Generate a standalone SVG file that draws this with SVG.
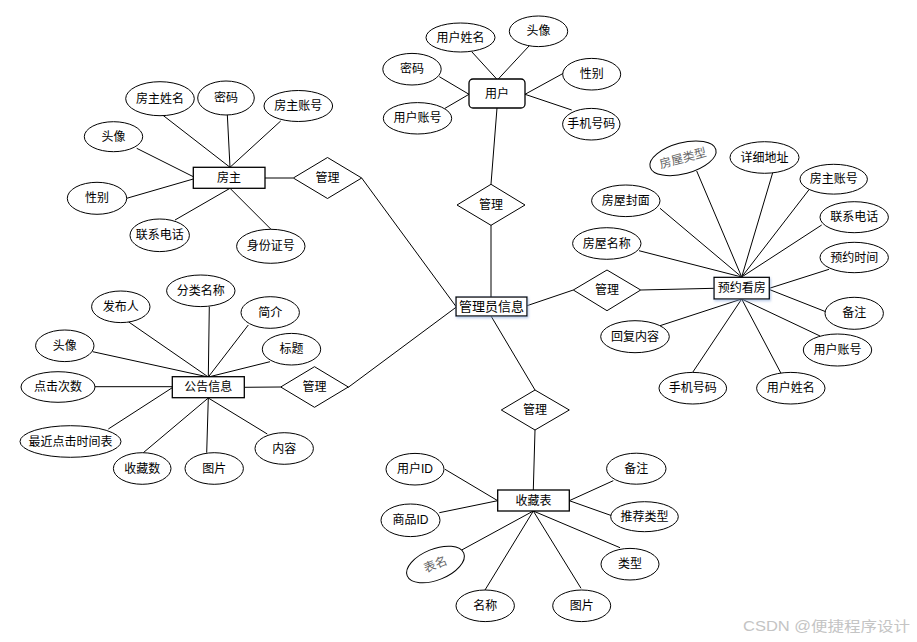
<svg xmlns="http://www.w3.org/2000/svg" width="917" height="642" viewBox="0 0 917 642">
<defs>
<style>
text{font-family:"Liberation Sans","Noto Sans CJK SC",sans-serif;font-size:12px;fill:#000;text-anchor:middle;dominant-baseline:central}
.e{fill:#fff;stroke:#000;stroke-width:1}
.r{fill:#fff;stroke:#000;stroke-width:1.3}
.d{fill:#fff;stroke:#000;stroke-width:1}
.c line{stroke:#000;stroke-width:1}
.g{fill:#666}
.big{font-size:13px}
.wm{fill:#c4c4c4;font-size:14px;text-anchor:start}
</style>
<filter id="sh" x="-20%" y="-30%" width="140%" height="160%"><feDropShadow dx="1" dy="1.5" stdDeviation="1.2" flood-color="#8aa8d8" flood-opacity="0.6"/></filter>
</defs>
<rect width="917" height="642" fill="#fff"/>
<g id="connectors" class="c">
<!-- admin relations -->
<line x1="491" y1="297" x2="491" y2="225"/>
<line x1="491" y1="184" x2="497" y2="108"/>
<line x1="361.7" y1="178" x2="456" y2="306.5"/>
<line x1="293" y1="178" x2="265" y2="178"/>
<line x1="348" y1="387.5" x2="456" y2="307.3"/>
<line x1="527" y1="305.7" x2="573.3" y2="290"/>
<line x1="640.7" y1="290" x2="714" y2="288.3"/>
<line x1="491" y1="316" x2="535" y2="390"/>
<line x1="535" y1="430" x2="533.3" y2="490"/>
<line x1="244.3" y1="387.3" x2="280.7" y2="387"/>
<!-- 房主 -->
<line x1="161.7" y1="114.3" x2="230" y2="167.3"/>
<line x1="227.3" y1="114.3" x2="230" y2="167.3"/>
<line x1="280.7" y1="121" x2="230" y2="167.3"/>
<line x1="136.7" y1="148.3" x2="193.3" y2="176.7"/>
<line x1="126.7" y1="198.3" x2="193.3" y2="179"/>
<line x1="175" y1="220" x2="230" y2="188.3"/>
<line x1="270.7" y1="229" x2="230" y2="188.3"/>
<!-- 用户 -->
<line x1="471.7" y1="51.7" x2="496.7" y2="79"/>
<line x1="529.3" y1="45.7" x2="498.3" y2="79"/>
<line x1="439.3" y1="76.7" x2="469" y2="94.3"/>
<line x1="445" y1="108.3" x2="469" y2="94.3"/>
<line x1="563.3" y1="73.3" x2="525" y2="94.3"/>
<line x1="571.7" y1="110" x2="525" y2="94.3"/>
<!-- 预约看房 -->
<line x1="696.7" y1="171" x2="741.7" y2="277"/>
<line x1="772.7" y1="172.7" x2="741.7" y2="277"/>
<line x1="809.3" y1="189.3" x2="741.7" y2="277"/>
<line x1="660" y1="208.3" x2="741.7" y2="277"/>
<line x1="821.7" y1="225" x2="741.7" y2="277"/>
<line x1="639" y1="250.7" x2="741.7" y2="277"/>
<line x1="829" y1="269.3" x2="769.3" y2="288.3"/>
<line x1="825.7" y1="311.7" x2="769.3" y2="289.5"/>
<line x1="660" y1="325.7" x2="741.7" y2="299"/>
<line x1="820" y1="336" x2="741.7" y2="299"/>
<line x1="692.7" y1="372.3" x2="741.7" y2="299"/>
<line x1="781" y1="373.3" x2="741.7" y2="299"/>
<!-- 公告信息 -->
<line x1="209.3" y1="306.7" x2="208.3" y2="377"/>
<line x1="128.3" y1="321.7" x2="208.3" y2="377"/>
<line x1="248.3" y1="325" x2="208.3" y2="377"/>
<line x1="92.7" y1="351.7" x2="208.3" y2="377"/>
<line x1="270" y1="361.7" x2="208.3" y2="377"/>
<line x1="95" y1="386.7" x2="172.3" y2="386.7"/>
<line x1="108.3" y1="429" x2="172.3" y2="387.7"/>
<line x1="143.3" y1="452.7" x2="208.3" y2="398"/>
<line x1="206.7" y1="452.7" x2="208.3" y2="398"/>
<line x1="267.3" y1="434" x2="208.3" y2="398"/>
<!-- 收藏表 -->
<line x1="445" y1="469.3" x2="497.7" y2="500.7"/>
<line x1="439.3" y1="512.7" x2="497.7" y2="500.7"/>
<line x1="613.3" y1="480.7" x2="569.3" y2="500.7"/>
<line x1="611.7" y1="515.7" x2="569.3" y2="500.7"/>
<line x1="461.7" y1="550" x2="533.3" y2="511"/>
<line x1="485" y1="590" x2="533.3" y2="511"/>
<line x1="581" y1="588.3" x2="533.3" y2="511"/>
<line x1="620" y1="547.7" x2="533.3" y2="511"/>
</g>
<!-- relationships -->
<g id="rel-admin-user"><polygon class="d" points="491,184.3 525,205 491,225.3 457,205"/><text x="491" y="205">管理</text></g>
<g id="rel-admin-owner"><polygon class="d" points="327.5,157.5 361.7,178 327.5,198.5 293.3,178"/><text x="327.5" y="178">管理</text></g>
<g id="rel-admin-notice"><polygon class="d" points="314.5,366.7 348.3,387 314.5,407.3 280.7,387"/><text x="314.5" y="387">管理</text></g>
<g id="rel-admin-fav"><polygon class="d" points="535,390 569.3,410 535,430 501.3,410"/><text x="535" y="410">管理</text></g>
<g id="rel-admin-booking"><polygon class="d" points="607,270 640.7,290 607,310.7 573.3,290"/><text x="607" y="290">管理</text></g>
<!-- entities -->
<g id="admin"><rect class="r" x="456" y="297" width="71" height="19" filter="url(#sh)"/><text class="big" x="491.5" y="306.5">管理员信息</text></g>
<g id="owner"><rect class="r" x="193.3" y="167.3" width="71.7" height="21"/><text x="229" y="178">房主</text></g>
<g id="user"><rect class="r" x="469" y="79" width="56" height="29" rx="4"/><text x="497" y="93.5">用户</text></g>
<g id="booking"><rect class="r" x="714" y="277.3" width="55.3" height="21.7" filter="url(#sh)"/><text x="741.7" y="288.2">预约看房</text></g>
<g id="notice"><rect class="r" x="172.3" y="376.7" width="72" height="21"/><text x="208.3" y="387.2">公告信息</text></g>
<g id="fav"><rect class="r" x="497.7" y="490" width="71.6" height="21"/><text x="533.5" y="500.5">收藏表</text></g>
<!-- 房主 attributes -->
<g id="owner-name"><ellipse class="e" cx="160" cy="98.7" rx="34.3" ry="17"/><text x="160" y="98.7">房主姓名</text></g>
<g id="owner-pwd"><ellipse class="e" cx="226" cy="98" rx="28.3" ry="17"/><text x="226" y="98">密码</text></g>
<g id="owner-acct"><ellipse class="e" cx="298.3" cy="106" rx="34.3" ry="15.5"/><text x="298.3" y="106">房主账号</text></g>
<g id="owner-avatar"><ellipse class="e" cx="113.5" cy="136.7" rx="29.2" ry="15"/><text x="113.5" y="136.7">头像</text></g>
<g id="owner-gender"><ellipse class="e" cx="97" cy="198.3" rx="29.7" ry="16"/><text x="97" y="198.3">性别</text></g>
<g id="owner-phone"><ellipse class="e" cx="159.7" cy="235.3" rx="29.7" ry="16.3"/><text x="159.7" y="235.3">联系电话</text></g>
<g id="owner-idno"><ellipse class="e" cx="270.8" cy="246.3" rx="34.2" ry="17"/><text x="270.8" y="246.3">身份证号</text></g>
<!-- 用户 attributes -->
<g id="user-name"><ellipse class="e" cx="460.5" cy="37.5" rx="34.5" ry="14.5"/><text x="460.5" y="37.5">用户姓名</text></g>
<g id="user-avatar"><ellipse class="e" cx="538.5" cy="31.3" rx="29.2" ry="15.3"/><text x="538.5" y="31.3">头像</text></g>
<g id="user-pwd"><ellipse class="e" cx="412" cy="69.2" rx="29.2" ry="15.8"/><text x="412" y="69.2">密码</text></g>
<g id="user-gender"><ellipse class="e" cx="591.7" cy="74.2" rx="29" ry="15.8"/><text x="591.7" y="74.2">性别</text></g>
<g id="user-acct"><ellipse class="e" cx="417.5" cy="118.3" rx="34.2" ry="15.7"/><text x="417.5" y="118.3">用户账号</text></g>
<g id="user-phone"><ellipse class="e" cx="591.3" cy="124.2" rx="28.7" ry="15.8"/><text x="591.3" y="124.2">手机号码</text></g>
<!-- 预约看房 attributes -->
<g id="bk-type"><ellipse class="e" cx="683" cy="158.3" rx="34" ry="15.5" transform="rotate(-15 683 158.3)"/><text class="g" x="683" y="158.3" transform="rotate(-15 683 158.3)">房屋类型</text></g>
<g id="bk-addr"><ellipse class="e" cx="764.5" cy="157.5" rx="34.5" ry="15.8"/><text x="764.5" y="157.5">详细地址</text></g>
<g id="bk-owner"><ellipse class="e" cx="833.7" cy="179.2" rx="33.7" ry="14.9"/><text x="833.7" y="179.2">房主账号</text></g>
<g id="bk-cover"><ellipse class="e" cx="625.8" cy="200.8" rx="34.2" ry="15.8"/><text x="625.8" y="200.8">房屋封面</text></g>
<g id="bk-phone"><ellipse class="e" cx="854.2" cy="217.2" rx="34.2" ry="15.5"/><text x="854.2" y="217.2">联系电话</text></g>
<g id="bk-hname"><ellipse class="e" cx="606.8" cy="243.5" rx="34.2" ry="15.8"/><text x="606.8" y="243.5">房屋名称</text></g>
<g id="bk-time"><ellipse class="e" cx="854.2" cy="257.5" rx="34.2" ry="15.2"/><text x="854.2" y="257.5">预约时间</text></g>
<g id="bk-note"><ellipse class="e" cx="854.2" cy="313.3" rx="29.2" ry="16"/><text x="854.2" y="313.3">备注</text></g>
<g id="bk-reply"><ellipse class="e" cx="635" cy="336.7" rx="34.3" ry="16"/><text x="635" y="336.7">回复内容</text></g>
<g id="bk-uacct"><ellipse class="e" cx="837.5" cy="350" rx="34.2" ry="16"/><text x="837.5" y="350">用户账号</text></g>
<g id="bk-uphone"><ellipse class="e" cx="692.8" cy="388.2" rx="33.8" ry="15.8"/><text x="692.8" y="388.2">手机号码</text></g>
<g id="bk-uname"><ellipse class="e" cx="790.8" cy="388.2" rx="34.2" ry="15.8"/><text x="790.8" y="388.2">用户姓名</text></g>
<!-- 公告信息 attributes -->
<g id="nt-cat"><ellipse class="e" cx="200.8" cy="290.8" rx="34.2" ry="15.8"/><text x="200.8" y="290.8">分类名称</text></g>
<g id="nt-pub"><ellipse class="e" cx="120.8" cy="306.8" rx="29.2" ry="15.8"/><text x="120.8" y="306.8">发布人</text></g>
<g id="nt-intro"><ellipse class="e" cx="270.2" cy="312.5" rx="29.2" ry="15.8"/><text x="270.2" y="312.5">简介</text></g>
<g id="nt-avatar"><ellipse class="e" cx="64.8" cy="345.8" rx="29.2" ry="15.8"/><text x="64.8" y="345.8">头像</text></g>
<g id="nt-title"><ellipse class="e" cx="291.5" cy="349.2" rx="29.2" ry="15.8"/><text x="291.5" y="349.2">标题</text></g>
<g id="nt-clicks"><ellipse class="e" cx="58" cy="387" rx="37" ry="15.3"/><text x="58" y="387">点击次数</text></g>
<g id="nt-lastclick"><ellipse class="e" cx="70.5" cy="441.5" rx="50.5" ry="15.8"/><text x="70.5" y="441.5">最近点击时间表</text></g>
<g id="nt-favs"><ellipse class="e" cx="142.2" cy="468.5" rx="28.8" ry="15.8"/><text x="142.2" y="468.5">收藏数</text></g>
<g id="nt-img"><ellipse class="e" cx="214.2" cy="468.5" rx="29.2" ry="15.8"/><text x="214.2" y="468.5">图片</text></g>
<g id="nt-content"><ellipse class="e" cx="284.2" cy="448.5" rx="29.2" ry="15.8"/><text x="284.2" y="448.5">内容</text></g>
<!-- 收藏表 attributes -->
<g id="fv-uid"><ellipse class="e" cx="415" cy="469.2" rx="29" ry="15.8"/><text x="415" y="469.2">用户ID</text></g>
<g id="fv-note"><ellipse class="e" cx="636.3" cy="468.7" rx="29.7" ry="15.5"/><text x="636.3" y="468.7">备注</text></g>
<g id="fv-gid"><ellipse class="e" cx="410.5" cy="520.3" rx="29.5" ry="16.3"/><text x="410.5" y="520.3">商品ID</text></g>
<g id="fv-rtype"><ellipse class="e" cx="644.5" cy="516.7" rx="33.8" ry="15"/><text x="644.5" y="516.7">推荐类型</text></g>
<g id="fv-table"><ellipse class="e" cx="435.5" cy="564.5" rx="30.5" ry="15.5" transform="rotate(-22 435.5 564.5)"/><text class="g" x="435.5" y="564.5" transform="rotate(-22 435.5 564.5)">表名</text></g>
<g id="fv-type"><ellipse class="e" cx="630" cy="564.2" rx="29" ry="15.8"/><text x="630" y="564.2">类型</text></g>
<g id="fv-name"><ellipse class="e" cx="485.2" cy="605.8" rx="29.2" ry="15.8"/><text x="485.2" y="605.8">名称</text></g>
<g id="fv-img"><ellipse class="e" cx="581.7" cy="605.8" rx="29" ry="15.8"/><text x="581.7" y="605.8">图片</text></g>
<text class="wm" x="743" y="626" textLength="167" lengthAdjust="spacingAndGlyphs">CSDN @便捷程序设计</text>
</svg>
